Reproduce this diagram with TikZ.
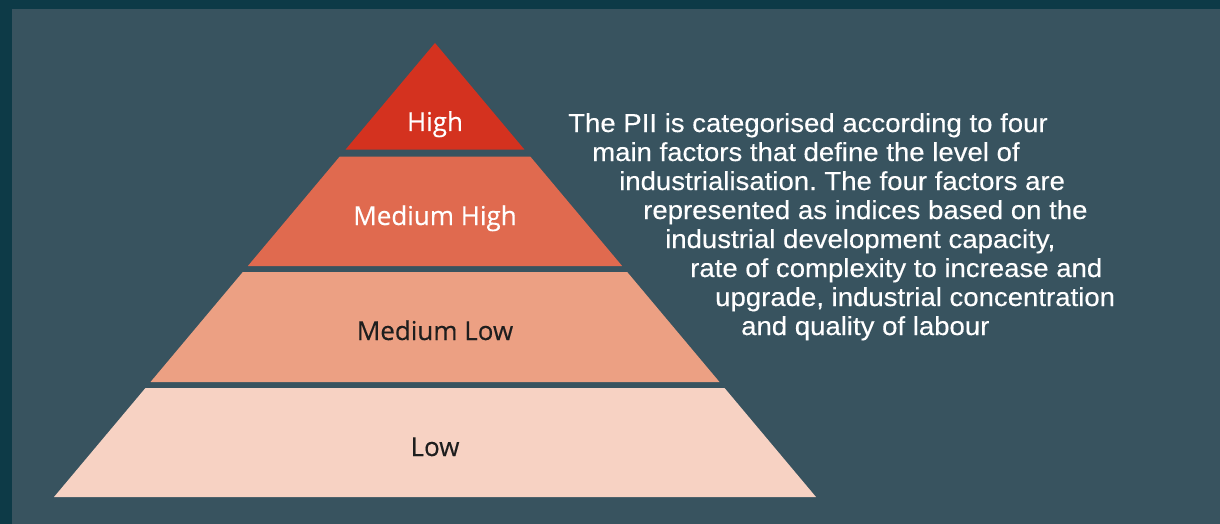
\documentclass[tikz,border=0pt]{standalone}
\usepackage{fontspec}
\setmainfont{Liberation Sans}
\newfontfamily\parafont[FakeStretch=1.06,FakeBold=0.3]{Liberation Sans}
\newfontfamily\labelfont[FakeBold=0.3]{Open Sans}
\definecolor{frame}{HTML}{0D3A47}
\definecolor{bgc}{HTML}{38535F}
\definecolor{thigh}{HTML}{D4321F}
\definecolor{tmh}{HTML}{E06A4F}
\definecolor{tml}{HTML}{ECA083}
\definecolor{tlow}{HTML}{F7D2C3}
\definecolor{darktext}{HTML}{1E1E1E}
\tikzset{
  tierlabel/.style={anchor=base, inner sep=0pt, font=\labelfont\fontsize{26}{30}\selectfont},
  paraline/.style={anchor=base west, inner sep=0pt, text=white, font=\parafont\fontsize{26}{29}\selectfont\frenchspacing},
}
\begin{document}
\begin{tikzpicture}[x=1pt,y=-1pt]
\useasboundingbox (0,0) rectangle (1220,524);
\fill[frame] (0,0) rectangle (1220,524);
\fill[bgc] (12,9) rectangle (1220,524);
% tiers
\fill[thigh] (435,43) -- (524.38,149.5) -- (345.62,149.5) -- cycle;
\fill[tmh] (339.75,156.5) -- (530.25,156.5) -- (622.14,266) -- (247.86,266) -- cycle;
\fill[tml] (242.82,272) -- (627.18,272) -- (719.49,382) -- (150.51,382) -- cycle;
\fill[tlow] (145.47,388) -- (724.53,388) -- (816,497) -- (54,497) -- cycle;
% labels
\node[tierlabel, text=white] (lhigh) at (435,131) {High};
\node[tierlabel, text=white] (lmh) at (435,225) {Medium High};
\node[tierlabel, text=darktext] (lml) at (435,340) {Medium Low};
\node[tierlabel, text=darktext] (llow) at (435,456) {Low};
% paragraph
\node[paraline] (p1) at (568,132) {The PII is categorised according to four};
\node[paraline] (p2) at (592,161) {main factors that define the level of};
\node[paraline] (p3) at (619,190) {industrialisation. The four factors are};
\node[paraline] (p4) at (643,219) {represented as indices based on the};
\node[paraline] (p5) at (665,248) {industrial development capacity,};
\node[paraline] (p6) at (690,277) {rate of complexity to increase and};
\node[paraline] (p7) at (715,306) {upgrade, industrial concentration};
\node[paraline] (p8) at (741,335) {and quality of labour};
\end{tikzpicture}
\end{document}
